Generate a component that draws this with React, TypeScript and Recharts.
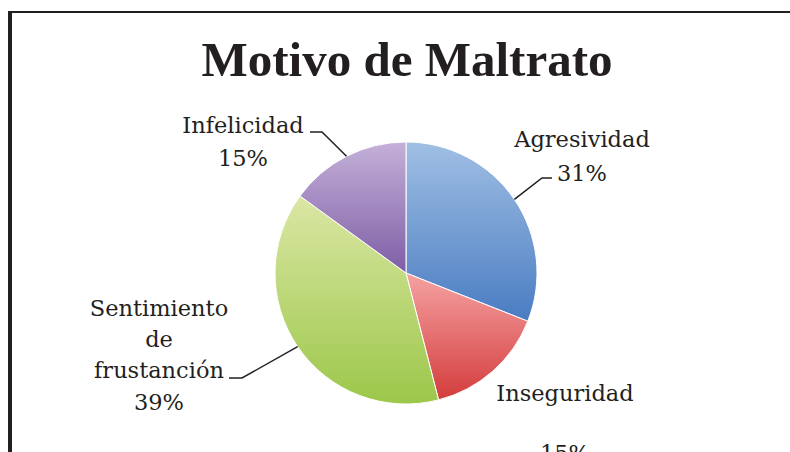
import { PieChart, Pie, Cell } from "recharts";

const categories = ["Agresividad", "Inseguridad", "Sentimiento de frustanción", "Infelicidad"];
const values = [31, 15, 39, 15];
const labelLines = [["Agresividad"], ["Inseguridad"], ["Sentimiento", "de", "frustanción"], ["Infelicidad"]];

const GRADS = [
  ["#a0bfe4", "#4a7cc2"],
  ["#f5a2a2", "#d43c3c"],
  ["#dae7a4", "#9cc74a"],
  ["#c4b0d8", "#7e5ea6"],
];

// label placement relative to the pie centre: text centre x, first baseline y, line gap,
// gap before the percent line, and the elbow / end of the leader line (null = no leader)
const LAYOUT = [
  { tx: 176, ty: -126, gap: 34, pgap: 34, elbow: [136, -95], end: [146, -95] },
  { tx: 159, ty: 128, gap: 34, pgap: 60, elbow: null, end: null },
  { tx: -247, ty: 43, gap: 31, pgap: 32, elbow: [-164, 105], end: [-177, 105] },
  { tx: -163, ty: -140, gap: 33, pgap: 33, elbow: [-84, -141], end: [-96, -141] },
];

const data = categories.map((name, i) => ({ name, value: values[i] }));
const RAD = Math.PI / 180;

function renderLabel(props: any) {
  const { cx, cy, midAngle, outerRadius, percent, index } = props;
  const L = LAYOUT[index];
  const lines = labelLines[index];
  const sx = cx + outerRadius * Math.cos(-midAngle * RAD);
  const sy = cy + outerRadius * Math.sin(-midAngle * RAD);
  const x = cx + L.tx;
  const y0 = cy + L.ty;
  const pctY = y0 + (lines.length - 1) * L.gap + L.pgap;
  return (
    <g key={`lbl-${index}`}>
      {L.elbow && L.end && (
        <polyline
          points={`${sx},${sy} ${cx + L.elbow[0]},${cy + L.elbow[1]} ${cx + L.end[0]},${cy + L.end[1]}`}
          fill="none"
          stroke="#231f20"
          strokeWidth={1.5}
        />
      )}
      <text x={x} textAnchor="middle" fill="#231f20" fontFamily="'DejaVu Serif', serif" fontSize={22.5}>
        {lines.map((t, i) => (
          <tspan key={i} x={x} y={y0 + i * L.gap}>{t}</tspan>
        ))}
        <tspan x={x} y={pctY}>{`${Math.round(percent * 100)}%`}</tspan>
      </text>
    </g>
  );
}

export default function App() {
  return (
    <div style={{ position: "absolute", left: 0, top: 0, width: 790, height: 452, background: "#fff", overflow: "hidden" }}>
      <div
        style={{
          position: "absolute",
          left: 8,
          top: 11,
          width: 790,
          height: 460,
          borderLeft: "4px solid #231f20",
          borderTop: "2px solid #231f20",
        }}
      />
      <div
        style={{
          position: "absolute",
          left: 0,
          top: 30,
          width: 814,
          textAlign: "center",
          fontFamily: "'Liberation Serif', serif",
          fontWeight: "bold",
          fontSize: 49,
          color: "#231f20",
          lineHeight: "60px",
        }}
      >
        Motivo de Maltrato
      </div>
      <div style={{ position: "absolute", left: 0, top: 0 }}>
        <PieChart width={790} height={452} margin={{ top: 0, right: 0, bottom: 0, left: 0 }}>
          <defs>
            {GRADS.map((g, i) => (
              <linearGradient key={i} id={`grad${i}`} x1="0" y1="0" x2="0" y2="1">
                <stop offset="0%" stopColor={g[0]} />
                <stop offset="100%" stopColor={g[1]} />
              </linearGradient>
            ))}
          </defs>
          <Pie
            data={data}
            dataKey="value"
            nameKey="name"
            cx={406}
            cy={273}
            outerRadius={131}
            startAngle={90}
            endAngle={-270}
            stroke="#ffffff"
            strokeWidth={1}
            label={renderLabel}
            labelLine={false}
            isAnimationActive={false}
          >
            {data.map((_, i) => (
              <Cell key={i} fill={`url(#grad${i})`} />
            ))}
          </Pie>
        </PieChart>
      </div>
    </div>
  );
}
